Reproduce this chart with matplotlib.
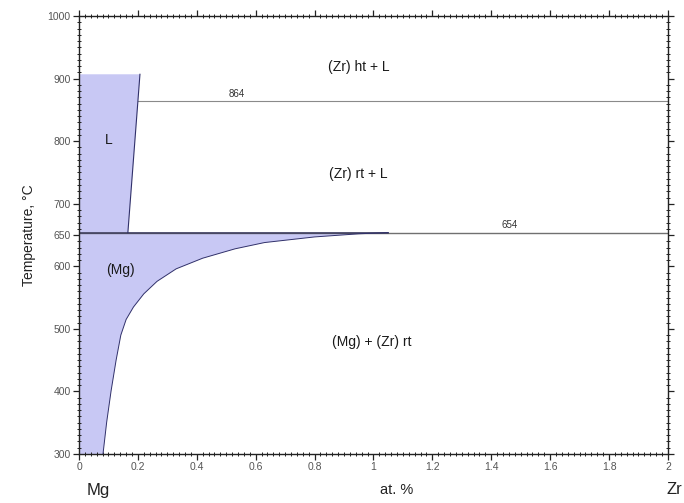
import matplotlib
matplotlib.use("Agg")
import matplotlib.pyplot as plt
from matplotlib.ticker import MultipleLocator, FixedLocator, FuncFormatter

plt.rcParams['font.family'] = ['Liberation Sans', 'DejaVu Sans']

# Data
liquidus_x = [0.0, 0.207, 0.166, 0.0]
liquidus_T = [907, 907, 654, 654]
solvus_T = [300, 351, 401, 450, 490, 515, 535, 556, 576, 596, 613, 628, 638, 647, 652, 654]
solvus_x = [0.0815, 0.094, 0.109, 0.126, 0.142, 0.160, 0.185, 0.220, 0.265, 0.330, 0.420,
            0.530, 0.630, 0.800, 0.950, 1.05]
iso_864 = 864
iso_654 = 654
y_ticks = [300, 400, 500, 600, 650, 700, 800, 900, 1000]
x_ticks = [0, 0.2, 0.4, 0.6, 0.8, 1.0, 1.2, 1.4, 1.6, 1.8, 2.0]
phase_labels = [("L", 0.10, 802), ("(Mg)", 0.14, 594), ("(Zr) ht + L", 0.95, 918),
                ("(Zr) rt + L", 0.95, 747), ("(Mg) + (Zr) rt", 0.995, 479)]

fill_c = '#c8c8f4'
edge_c = '#30306a'

fig = plt.figure(figsize=(6.84, 5.03), dpi=100)
ax = fig.add_axes([0.1155, 0.0974, 0.861, 0.8706])
ax.set_xlim(0, 2)
ax.set_ylim(300, 1000)

# L region
ax.fill(liquidus_x, liquidus_T, color=fill_c, lw=0, zorder=1)
ax.plot(liquidus_x[1:3], liquidus_T[1:3], color=edge_c, lw=0.8, zorder=3)

# (Mg) region
sx = [0.0] + solvus_x + [0.0]
sT = [300] + solvus_T + [654]
ax.fill(sx, sT, color=fill_c, lw=0, zorder=1)
ax.plot(solvus_x, solvus_T, color=edge_c, lw=0.7, zorder=3)

# isotherms
ax.plot([0.20, 2.0], [iso_864, iso_864], color='#8a8a8a', lw=0.8, zorder=2)
ax.plot([0.0, 2.0], [iso_654, iso_654], color='#707070', lw=1.0, zorder=2)
ax.plot([0.0, 1.05], [iso_654, iso_654], color='#404060', lw=1.2, zorder=2)
ax.text(0.537, 868, "864", fontsize=7, color='#333333', ha='center', va='bottom')
ax.text(1.463, 658, "654", fontsize=7, color='#333333', ha='center', va='bottom')

for txt, x, y in phase_labels:
    ax.text(x, y, txt, fontsize=10, color='#1a1a1a', ha='center', va='center')

# ticks
ax.xaxis.set_major_locator(FixedLocator(x_ticks))
ax.xaxis.set_minor_locator(MultipleLocator(0.02))
ax.yaxis.set_major_locator(FixedLocator(y_ticks))
ax.yaxis.set_minor_locator(MultipleLocator(10))
ax.xaxis.set_major_formatter(FuncFormatter(lambda v, p: ("%g" % round(v, 2))))
ax.tick_params(which='major', direction='out', length=4, width=0.9, color='#222222',
               labelsize=7.5, labelcolor='#555555', top=True, right=True, pad=2)
ax.tick_params(which='minor', direction='inout', length=3, width=0.7, color='#222222',
               top=True, right=True)
ax.tick_params(axis='x', which='both', labeltop=False)
ax.tick_params(axis='y', which='both', labelright=False)
for s in ax.spines.values():
    s.set_linewidth(1.0)
    s.set_color('#222222')

ax.set_ylabel("Temperature, °C", fontsize=10, color='#222222', labelpad=8)
fig.text(98 / 684, 1 - 490 / 503, "Mg", fontsize=12, ha='center', va='center', color='#222222')
fig.text(397 / 684, 1 - 490 / 503, "at. %", fontsize=10.5, ha='center', va='center', color='#222222')
fig.text(682 / 684, 1 - 490 / 503, "Zr", fontsize=12, ha='right', va='center', color='#222222')

fig.savefig("out.png", dpi=100)
